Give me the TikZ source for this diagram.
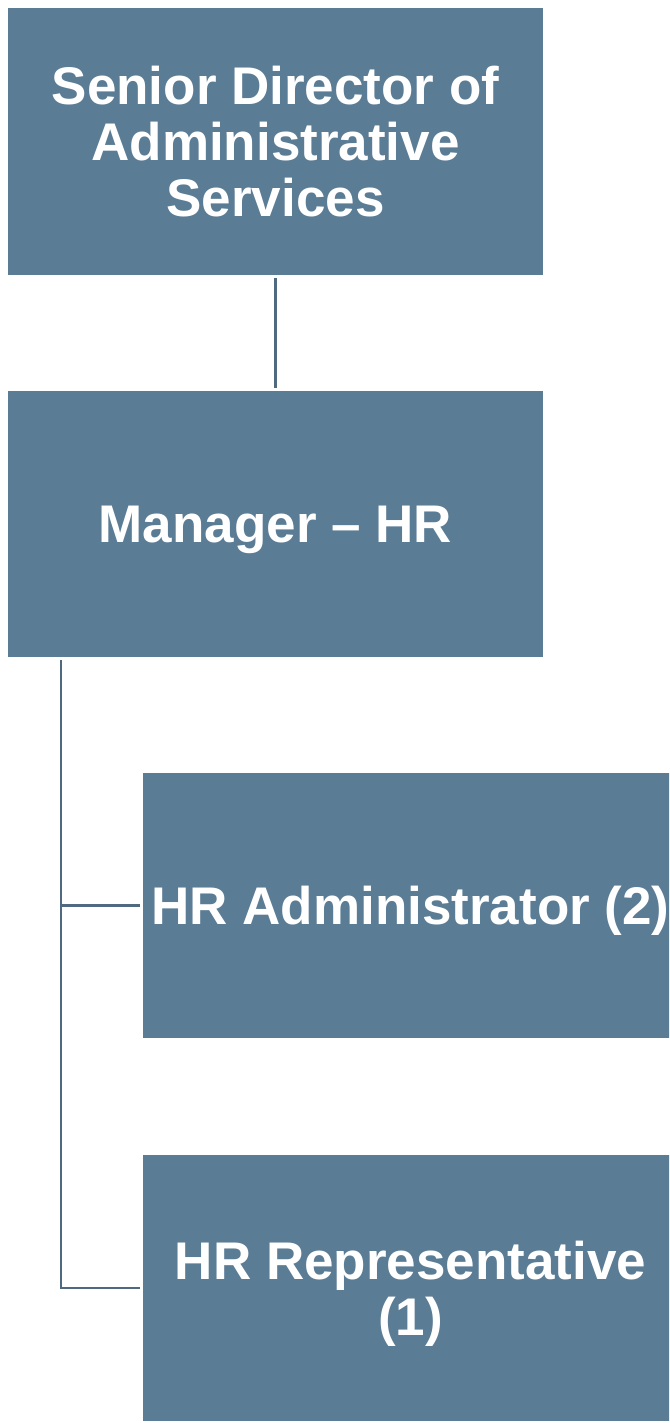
\documentclass[tikz,border=0pt]{standalone}
\usepackage{fontspec}
\setmainfont{Liberation Sans}
\usetikzlibrary{positioning}

\definecolor{boxfill}{HTML}{5B7C95}
\definecolor{linkcol}{HTML}{4F6A80}

\begin{document}
\begin{tikzpicture}[x=1pt, y=-1pt,
	post/.style={fill=boxfill, text=white, align=center, inner sep=0pt,
		text depth=0pt, font=\fontsize{53pt}{56pt}\selectfont\bfseries},
	link/.style={draw=linkcol, line width=2.6pt}]

	\useasboundingbox (0,0) rectangle (669,1423);
	\clip (0,0) rectangle (669,1423);

	\node[post, minimum width=535pt, minimum height=267pt] (senior) at (275.5,141.5)
		{Senior Director of\\Administrative\\Services};
	\node[post, minimum width=535pt, minimum height=266pt] (manager) at (275.5,524)
		{Manager -- HR};
	\node[post, minimum width=535pt, minimum height=265pt] (hradmin) at (410.5,905.5)
		{HR Administrator (2)};
	\node[post, minimum width=535pt, minimum height=266pt] (hrrep) at (410.5,1288)
		{HR Representative\\(1)};

	\coordinate (trunk) at (61,660);

	\draw[link, shorten <=3pt, shorten >=3pt] (senior) -- (manager);
	\draw[link, shorten >=3pt] (trunk) |- (hrrep.west);
	\draw[link, shorten >=3pt] (trunk |- hradmin.west) -- (hradmin.west);

\end{tikzpicture}
\end{document}
